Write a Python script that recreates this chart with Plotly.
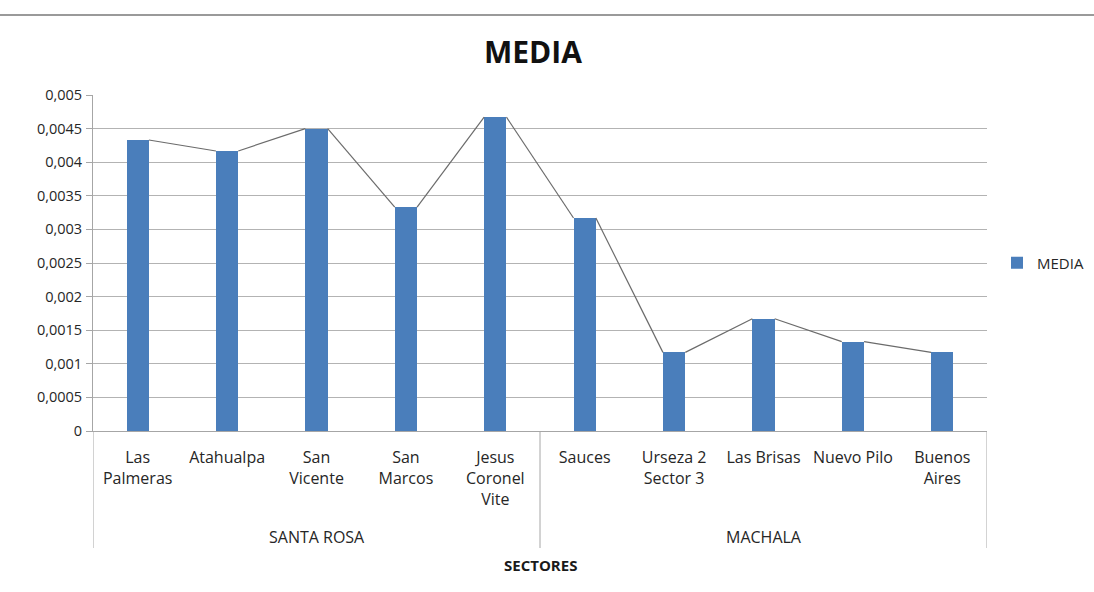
import plotly.graph_objects as go

categories = ["Las<br>Palmeras", "Atahualpa", "San<br>Vicente", "San<br>Marcos", "Jesus<br>Coronel<br>Vite",
              "Sauces", "Urseza 2<br>Sector 3", "Las Brisas", "Nuevo Pilo", "Buenos<br>Aires"]
groups = ["SANTA ROSA", "MACHALA"]
group_sizes = [5, 5]
media = [0.00433, 0.004167, 0.0045, 0.00333, 0.00467, 0.00317, 0.00117, 0.00167, 0.00133, 0.00117]
y_ticks = [0, 0.0005, 0.001, 0.0015, 0.002, 0.0025, 0.003, 0.0035, 0.004, 0.0045, 0.005]

BAR_W = 0.25
FONT = "Open Sans"
W, H = 1094, 592
L, R, T, B = 93, 107, 95, 161
plot_w = W - L - R
plot_h = H - T - B

x_pos = list(range(len(categories)))

# connecting line from right top corner of each bar to left top corner of next
lx, ly = [], []
for i in range(len(media) - 1):
    lx += [x_pos[i] + BAR_W / 2, x_pos[i + 1] - BAR_W / 2, None]
    ly += [media[i], media[i + 1], None]

fig = go.Figure()
fig.add_trace(go.Scatter(x=lx, y=ly, mode="lines", line=dict(color="#6b6b6b", width=1.2),
                         showlegend=False, hoverinfo="skip"))
fig.add_trace(go.Bar(x=x_pos, y=media, width=BAR_W, name="MEDIA",
                     marker=dict(color="#4a7ebb", line=dict(width=0))))

shapes = []
bounds = [0]
for s in group_sizes:
    bounds.append(bounds[-1] + s)
div_bottom = -(548 - (H - B)) / plot_h
for b in bounds:
    shapes.append(dict(type="line", xref="x", yref="paper", x0=b - 0.5, x1=b - 0.5,
                       y0=0, y1=div_bottom, line=dict(color="#a6a6a6", width=1)))
shapes.append(dict(type="line", xref="paper", yref="paper", x0=-L / plot_w, x1=(W - L) / plot_w,
                   y0=(H - B - 15) / plot_h, y1=(H - B - 15) / plot_h,
                   line=dict(color="#9a9a9a", width=2)))

annotations = []
start = 0
for g, s in zip(groups, group_sizes):
    annotations.append(dict(x=start + (s - 1) / 2, xref="x", y=0, yref="paper", yshift=-(537 - (H - B)),
                            text=g, showarrow=False, font=dict(family=FONT, size=16, color="#262626"),
                            yanchor="middle"))
    start += s
annotations.append(dict(x=0.5, xref="paper", y=0, yref="paper", yshift=-(565 - (H - B)),
                        text="<b>SECTORES</b>", showarrow=False,
                        font=dict(family=FONT, size=15, color="#1a1a1a"), yanchor="middle"))

fig.update_layout(
    width=W, height=H,
    margin=dict(l=L, r=R, t=T, b=B, autoexpand=False),
    paper_bgcolor="white", plot_bgcolor="white",
    separators=",.",
    title=dict(text="<b>MEDIA</b>", x=533 / W, xanchor="center",
               y=1 - 52 / H, yanchor="middle", font=dict(family=FONT, size=30, color="#111")),
    font=dict(family=FONT, size=14, color="#262626"),
    bargap=0,
    shapes=shapes,
    annotations=annotations,
    legend=dict(x=(997 - L) / plot_w, y=0.5, xanchor="left", yanchor="middle",
                font=dict(family=FONT, size=15), itemwidth=30),
    xaxis=dict(range=[-0.5, len(categories) - 0.5], tickvals=x_pos, ticktext=categories,
               showgrid=False, zeroline=False, showline=True, linecolor="#a6a6a6", linewidth=1,
               ticks="", ticklabelstandoff=12,
               tickfont=dict(family=FONT, size=16, color="#262626"), fixedrange=True),
    yaxis=dict(range=[0, 0.005], tickvals=y_ticks, tickformat=".4~f", showgrid=True,
               gridcolor="#b3b3b3", gridwidth=1, zeroline=False, showline=True,
               linecolor="#a6a6a6", ticks="outside", ticklen=6, tickcolor="#a6a6a6",
               ticklabelstandoff=1,
               tickfont=dict(family=FONT, size=14.5, color="#262626"), fixedrange=True),
)

fig.write_html("out.html")
